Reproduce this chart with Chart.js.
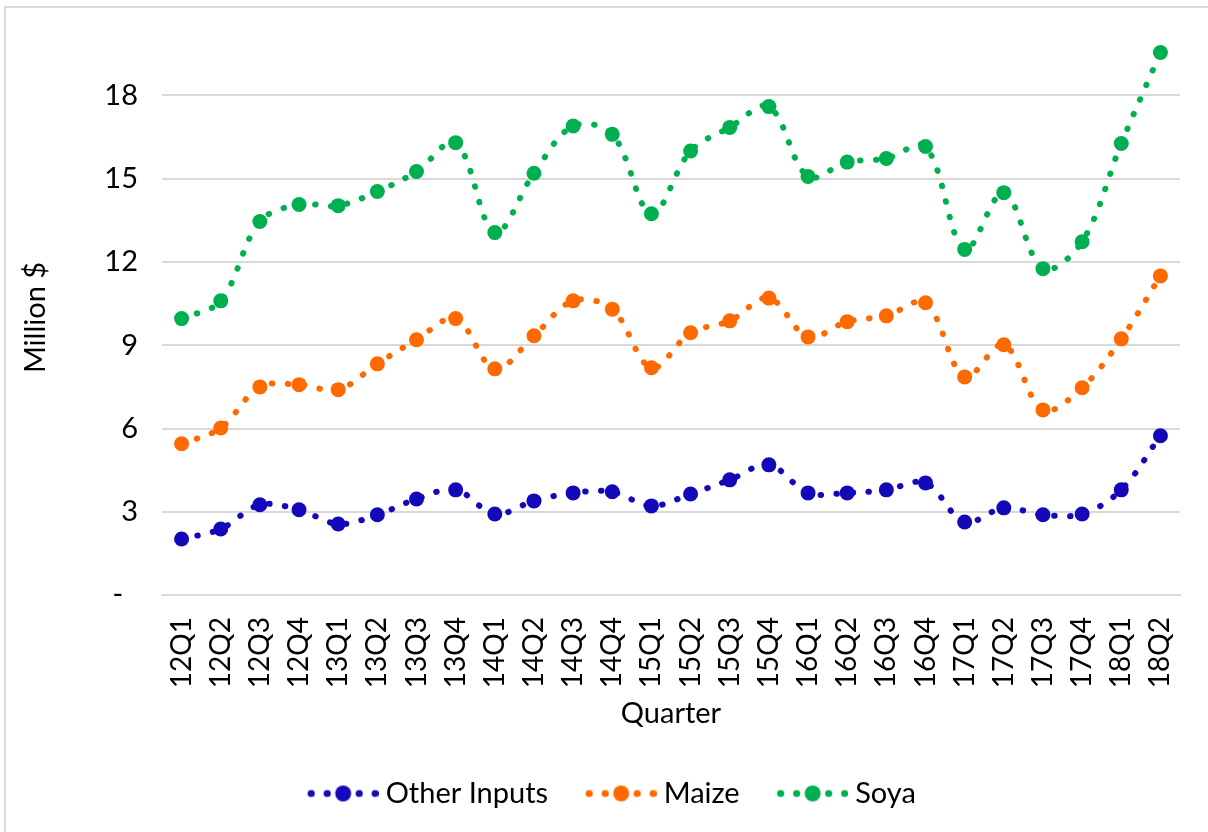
<!DOCTYPE html>
<html>
<head>
<meta charset="utf-8">
<title>Feed input imports by quarter</title>
<script src="https://cdn.jsdelivr.net/npm/chart.js@4.4.1/dist/chart.umd.min.js"></script>
<style>
  html, body { margin: 0; padding: 0; background: #fff; }
  #wrap { position: relative; width: 1208px; height: 832px; overflow: hidden; }
  #frame { position: absolute; left: 4px; top: 6px; width: 1230px; height: 850px; border: 2px solid #d9d9d9; }
  #chart { position: absolute; left: 0; top: 0; }
</style>
</head>
<body>
<div id="wrap">
  <div id="frame"></div>
  <canvas id="chart" width="1208" height="832"></canvas>
</div>
<script>
// Quarterly values, million $
const quarters = ['12Q1', '12Q2', '12Q3', '12Q4', '13Q1', '13Q2', '13Q3', '13Q4',
  '14Q1', '14Q2', '14Q3', '14Q4', '15Q1', '15Q2', '15Q3', '15Q4',
  '16Q1', '16Q2', '16Q3', '16Q4', '17Q1', '17Q2', '17Q3', '17Q4', '18Q1', '18Q2'];

const otherInputs = [2.02, 2.38, 3.25, 3.07, 2.56, 2.89, 3.46, 3.79,
  2.92, 3.39, 3.68, 3.72, 3.21, 3.64, 4.15, 4.69,
  3.68, 3.68, 3.79, 4.04, 2.63, 3.14, 2.89, 2.92, 3.79, 5.74];

const maize = [5.45, 6.02, 7.5, 7.58, 7.4, 8.33, 9.2, 9.96,
  8.15, 9.34, 10.6, 10.3, 8.19, 9.45, 9.88, 10.7,
  9.3, 9.85, 10.06, 10.53, 7.86, 9.02, 6.67, 7.47, 9.23, 11.5];

const soya = [9.96, 10.6, 13.46, 14.07, 14.03, 14.54, 15.26, 16.3,
  13.06, 15.2, 16.9, 16.6, 13.74, 16.0, 16.85, 17.6,
  15.08, 15.6, 15.73, 16.16, 12.45, 14.5, 11.76, 12.73, 16.27, 19.55];

const yTicks = [0, 3, 6, 9, 12, 15, 18];

const colors = { other: '#1409b8', maize: '#ff6a00', soya: '#00b050' };
const FONT = 'Lato, "Open Sans", sans-serif';

// legend symbol: dotted line with a big marker in the middle
function legendSymbol(color) {
  const c = document.createElement('canvas');
  c.width = 106;
  c.height = 20;
  const g = c.getContext('2d');
  g.fillStyle = color;
  const mid = 33.5 + 37;
  [-32, -16, 16, 32].forEach(dx => {
    g.beginPath();
    g.arc(mid + dx, 10, 3.6, 0, Math.PI * 2);
    g.fill();
  });
  g.beginPath();
  g.arc(mid, 10, 8, 0, Math.PI * 2);
  g.fill();
  return c;
}

function series(label, data, color) {
  return {
    label: label,
    data: data,
    borderColor: color,
    backgroundColor: color,
    borderWidth: 6,
    borderDash: [0.5, 15.5],
    borderCapStyle: 'round',
    tension: 0.35,
    fill: false,
    pointRadius: 7.5,
    pointBorderWidth: 0,
    pointBackgroundColor: color,
    pointHoverRadius: 8
  };
}

const ctx = document.getElementById('chart').getContext('2d');

const chart = new Chart(ctx, {
  type: 'line',
  data: {
    labels: quarters,
    datasets: [
      series('Other Inputs', otherInputs, colors.other),
      series('Maize', maize, colors.maize),
      series('Soya', soya, colors.soya)
    ]
  },
  options: {
    responsive: false,
    animation: false,
    layout: { padding: { top: 40, right: 28, bottom: 14, left: 16 } },
    plugins: {
      tooltip: { enabled: false },
      legend: {
        display: true,
        position: 'bottom',
        labels: {
          usePointStyle: true,
          pointStyleWidth: 91,
          padding: 10,
          color: '#000',
          font: { family: FONT, size: 29 },
          generateLabels: (ch) => ch.data.datasets.map((ds, i) => ({
            text: ds.label,
            fillStyle: ds.borderColor,
            strokeStyle: ds.borderColor,
            lineWidth: 0,
            pointStyle: legendSymbol(ds.borderColor),
            fontColor: '#000',
            hidden: false,
            datasetIndex: i
          }))
        }
      }
    },
    scales: {
      x: {
        offset: true,
        grid: { display: false, drawTicks: false },
        border: { display: true, color: '#d9d9d9', width: 2 },
        ticks: {
          color: '#000',
          font: { family: FONT, size: 28 },
          minRotation: 90,
          maxRotation: 90,
          padding: 22,
          autoSkip: false
        },
        title: {
          display: true,
          text: 'Quarter',
          color: '#000',
          font: { family: FONT, size: 29 },
          padding: { top: 0, bottom: 38 }
        },
        afterFit: (axis) => {
          axis.height = 174;
          axis.paddingLeft = 0;
          axis.paddingRight = 0;
        }
      },
      y: {
        min: 0,
        max: 20,
        grid: { color: '#d9d9d9', lineWidth: 2, drawTicks: false },
        border: { display: false },
        ticks: {
          stepSize: 3,
          color: '#000',
          padding: 24,
          font: { family: FONT, size: 29 },
          callback: (v) => (v === 0 ? '-  ' : v)
        },
        afterBuildTicks: (axis) => {
          axis.ticks = yTicks.map(v => ({ value: v }));
        },
        title: {
          display: true,
          text: 'Million $',
          color: '#000',
          font: { family: FONT, size: 29 },
          padding: { top: 2, bottom: 0 }
        },
        afterFit: (axis) => {
          axis.width = 146;
          axis.paddingTop = 0;
          axis.paddingBottom = 0;
        }
      }
    }
  }
});
</script>
</body>
</html>
